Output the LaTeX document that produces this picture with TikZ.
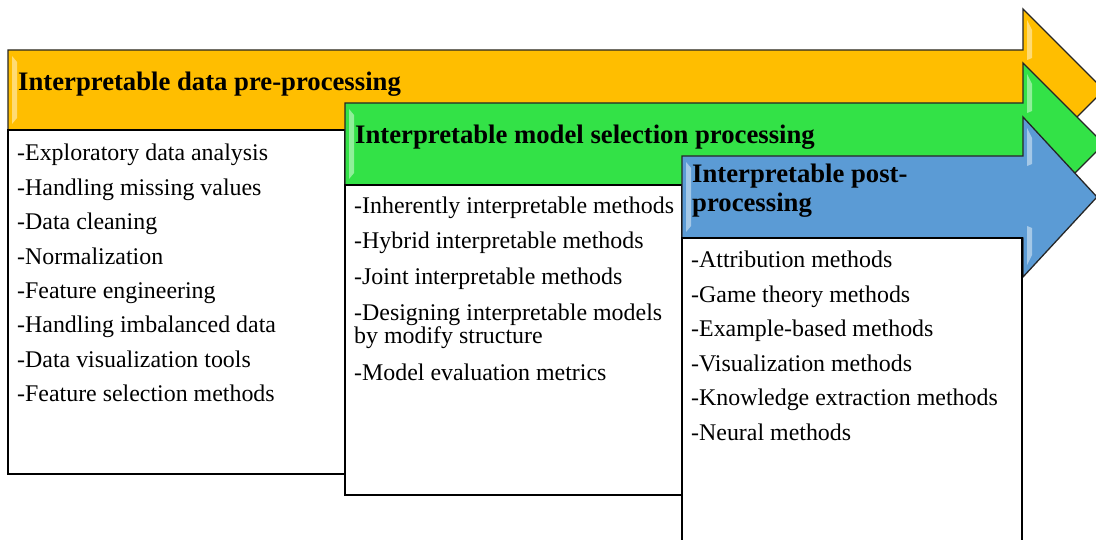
\documentclass[tikz,border=0pt]{standalone}
\usepackage{fontspec}
\setmainfont{Liberation Serif}
\definecolor{aorange}{HTML}{FFBE00}
\definecolor{agreen}{HTML}{33E247}
\definecolor{ablue}{HTML}{5B9BD5}
\begin{document}
\begin{tikzpicture}[x=1pt,y=-1pt,
  arr/.style={draw=black!85, line width=1.3pt, line join=miter},
  wbox/.style={draw=black, line width=1.5pt, fill=white},
  ttl/.style={anchor=base west, inner sep=0pt, font=\fontsize{26.7}{29}\selectfont\bfseries},
  itm/.style={anchor=base west, inner sep=0pt, font=\fontsize{23.9}{26}\selectfont},
  hl/.style={fill=white, opacity=0.45}]
\useasboundingbox (0,0) rectangle (1096,540);

% orange arrow
\draw[arr, fill=aorange] (8,50) -- (1023,50) -- (1023,9) -- (1104,90) -- (1023,171) -- (1023,130) -- (8,130) -- cycle;
\fill[hl] (12,56) -- (17,62) -- (17,118) -- (12,124) -- cycle;
\fill[hl] (1027,20) -- (1032,30) -- (1032,58) -- (1027,60) -- cycle;
% box 1
\draw[wbox] (8,130) rectangle (345,474);

% green arrow
\draw[arr, fill=agreen] (345,103) -- (1023,103) -- (1023,63) -- (1104,144) -- (1023,225) -- (1023,185) -- (345,185) -- cycle;
\fill[hl] (349,109) -- (354,115) -- (354,173) -- (349,179) -- cycle;
\fill[hl] (1027,74) -- (1032,84) -- (1032,111) -- (1027,113) -- cycle;
% box 2
\draw[wbox] (345,185) rectangle (682,495);

% blue arrow
\draw[arr, fill=ablue] (682,156) -- (1023,156) -- (1023,117) -- (1097,197) -- (1023,277) -- (1023,238) -- (682,238) -- cycle;
\fill[hl] (686,162) -- (691,168) -- (691,226) -- (686,232) -- cycle;
\fill[hl] (1027,128) -- (1032,138) -- (1032,164) -- (1027,166) -- cycle;
\fill[hl] (1027,226) -- (1032,228) -- (1032,255) -- (1027,265) -- cycle;
% box 3
\draw[wbox] (682,238) rectangle (1022,560);

% titles
\node[ttl] (t1) at (18,91) {Interpretable data pre-processing};
\node[ttl] (t2) at (355,144) {Interpretable model selection processing};
\node[ttl] (t3a) at (692,183) {Interpretable post-};
\node[ttl] (t3b) at (692,212) {processing};

% box 1 items
\node[itm] (a1) at (17,161) {-Exploratory data analysis};
\node[itm] (a2) at (17,195.4) {-Handling missing values};
\node[itm] (a3) at (17,229.8) {-Data cleaning};
\node[itm] (a4) at (17,264.2) {-Normalization};
\node[itm] (a5) at (17,298.6) {-Feature engineering};
\node[itm] (a6) at (17,333) {-Handling imbalanced data};
\node[itm] (a7) at (17,367.4) {-Data visualization tools};
\node[itm] (a8) at (17,401.8) {-Feature selection methods};

% box 2 items
\node[itm] (b1) at (354,214) {-Inherently interpretable methods};
\node[itm] (b2) at (354,249) {-Hybrid interpretable methods};
\node[itm] (b3) at (354,285) {-Joint interpretable methods};
\node[itm] (b4a) at (354,321) {-Designing interpretable models};
\node[itm] (b4b) at (354,344) {by modify structure};
\node[itm] (b5) at (354,380) {-Model evaluation metrics};

% box 3 items
\node[itm] (c1) at (691,268) {-Attribution methods};
\node[itm] (c2) at (691,302.4) {-Game theory methods};
\node[itm] (c3) at (691,336.8) {-Example-based methods};
\node[itm] (c4) at (691,371.2) {-Visualization methods};
\node[itm] (c5) at (691,405.6) {-Knowledge extraction methods};
\node[itm] (c6) at (691,440) {-Neural methods};
\end{tikzpicture}
\end{document}
